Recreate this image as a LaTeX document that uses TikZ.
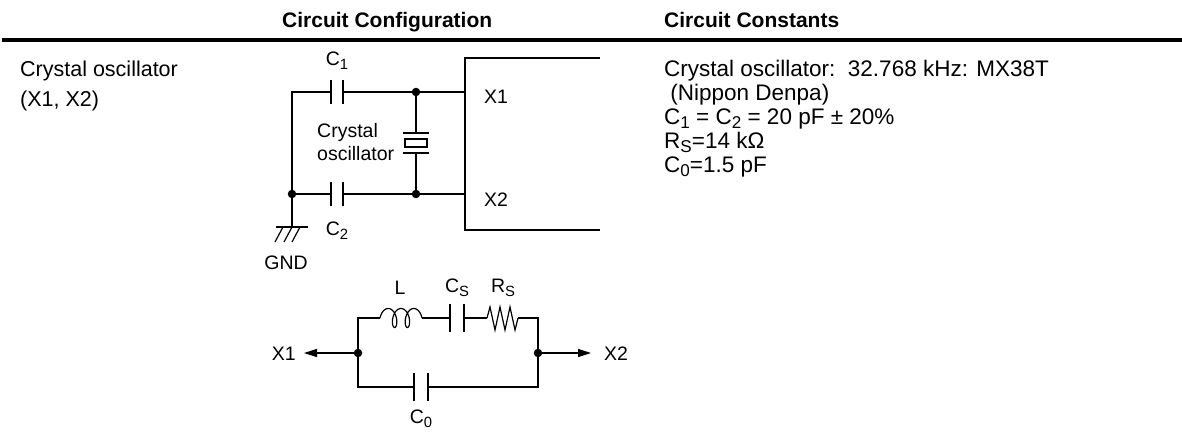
\documentclass[tikz,border=0pt]{standalone}
\usepackage{fontspec}
\usepackage{graphicx}
\setmainfont{Liberation Sans}
\usetikzlibrary{arrows.meta}
\newcommand{\lowsub}[1]{\raisebox{-0.22em}{\scalebox{0.76}{#1}}}

\begin{document}
\begin{tikzpicture}[x=1pt,y=-1pt,
  wire/.style={line width=1.2pt},
  plate/.style={line width=1.7pt},
  dot/.style={circle,fill,inner sep=0pt,minimum size=8.5pt},
  capa/.style={inner sep=0pt,minimum width=12pt,minimum height=24pt},
  lbl/.style={inner sep=0pt,font=\fontsize{19.5}{23}\selectfont},
  txt/.style={inner sep=0pt,anchor=base west,font=\fontsize{22.5}{24}\selectfont},
  hdr/.style={inner sep=0pt,anchor=base west,font=\fontsize{21}{26}\selectfont\bfseries},
  pin/.style={wire,-{Triangle[length=13pt,width=8pt]}}]
%
\useasboundingbox (0,0) rectangle (1182,436);
%
% headings
\node[hdr] (hconf) at (282,28) {Circuit Configuration};
\node[hdr] (hcons) at (664,28) {Circuit Constants};
\draw[line width=4pt] (2,40) -- (1182,40);
%
% left column
\node[txt,font=\fontsize{21.5}{24}\selectfont] (item) at (20,76) {Crystal oscillator};
\node[txt,font=\fontsize{21.5}{24}\selectfont] (pins) at (20,106) {(X1, X2)};
%
% right column
\node[txt] (k1) at (664,76) {Crystal oscillator:\ \ 32.768 kHz: MX38T};
\node[txt] (k2) at (664,100) {\ (Nippon Denpa)};
\node[txt] (k3) at (664,124) {C\lowsub{1} = C\lowsub{2} = 20 pF ± 20\%};
\node[txt] (k4) at (664,148) {R\lowsub{S}=14 kΩ};
\node[txt] (k5) at (664,172) {C\lowsub{0}=1.5 pF};
%
% oscillator circuit
\coordinate (tl) at (292,92);
\coordinate (gnd) at (292,227);
\coordinate (px1) at (465,92);
\coordinate (px2) at (465,194);
\node[dot] (jl) at (292,194) {};
\node[dot] (jt) at (416,92) {};
\node[dot] (jb) at (416,194) {};
\node[capa] (c1) at (337,92) {};
\node[capa] (c2) at (337,194) {};
\coordinate (xa) at (416,133);
\coordinate (xb) at (416,153);
\node[draw,wire,inner sep=0pt,minimum width=22pt,minimum height=8pt] (xtal) at (416,143) {};
%
\draw[wire] (gnd) -- (tl) -- (c1.west);
\draw[wire] (c1.east) -- (jt) -- (px1);
\draw[wire] (jl) -- (c2.west);
\draw[wire] (c2.east) -- (jb) -- (px2);
\draw[wire] (jt) -- (xa);
\draw[wire] (xb) -- (jb);
\draw[plate] (c1.north west) -- (c1.south west) (c1.north east) -- (c1.south east);
\draw[plate] (c2.north west) -- (c2.south west) (c2.north east) -- (c2.south east);
\draw[wire] ([xshift=-13pt]xa) -- ([xshift=13pt]xa);
\draw[wire] ([xshift=-13pt]xb) -- ([xshift=13pt]xb);
%
% ground
\draw[wire] ([xshift=-16pt]gnd) -- ([xshift=16pt]gnd);
\foreach \dx in {-9,0,8}
  \draw[wire] ([xshift=\dx pt]gnd) -- ++(-8,15);
%
% device outline
\draw[wire] (600,58) -- (465,58) -- (465,230) -- (600,230);
%
\node[lbl] (lc1) at (337,61) {C\lowsub{1}};
\node[lbl] (lc2) at (337,231) {C\lowsub{2}};
\node[lbl,anchor=west] (lx1) at (484,97) {X1};
\node[lbl,anchor=west] (lx2) at (484,200) {X2};
\node[lbl,anchor=base west] (lxt1) at (317,137) {Crystal};
\node[lbl,anchor=base west] (lxt2) at (317,160) {oscillator};
\node[lbl] (lgnd) at (286,263) {GND};
%
% equivalent circuit
\node[dot] (ja) at (358,353) {};
\node[dot] (jz) at (538,353) {};
\coordinate (ul) at (358,318);
\coordinate (ur) at (538,318);
\coordinate (dl) at (358,387);
\coordinate (dr) at (538,387);
\coordinate (la) at (380,318);
\coordinate (lb) at (422,318);
\coordinate (ra) at (487,318);
\coordinate (rb) at (518,318);
\node[capa,minimum width=13pt,minimum height=28pt] (cs) at (457,318) {};
\node[capa,minimum width=14pt,minimum height=27pt] (c0) at (421,387) {};
\coordinate (tip1) at (304,353);
\coordinate (tip2) at (591,353);
%
\draw[wire] (ja) -- (ul) -- (la);
\draw[wire,shift={(la)}] plot[domain=0:5*pi,samples=150,variable=\t]
  ({2.037*\t-5*cos(\t r)+5},{-9.5*sin(\t r)});
\draw[wire] (lb) -- (cs.west);
\draw[wire] (cs.east) -- (ra);
\draw[wire] (ra) -- ++(3,-11) -- ++(5,23) -- ++(5,-23) -- ++(5,23)
  -- ++(5,-23) -- ++(5,23) -- (rb);
\draw[wire] (rb) -- (ur) -- (jz);
\draw[wire] (ja) -- (dl) -- (c0.west);
\draw[wire] (c0.east) -- (dr) -- (jz);
\draw[plate] (cs.north west) -- (cs.south west) (cs.north east) -- (cs.south east);
\draw[plate] (c0.north west) -- (c0.south west) (c0.north east) -- (c0.south east);
\draw[pin] (ja) -- (tip1);
\draw[pin] (jz) -- (tip2);
%
\node[lbl] (ll) at (400,288) {L};
\node[lbl] (lcs) at (457,288) {C\lowsub{S}};
\node[lbl] (lrs) at (503,288) {R\lowsub{S}};
\node[lbl] (lc0) at (421,419) {C\lowsub{0}};
\node[lbl,anchor=east] (lp1) at (296,354) {X1};
\node[lbl,anchor=west] (lp2) at (604,354) {X2};
%
\end{tikzpicture}
\end{document}
